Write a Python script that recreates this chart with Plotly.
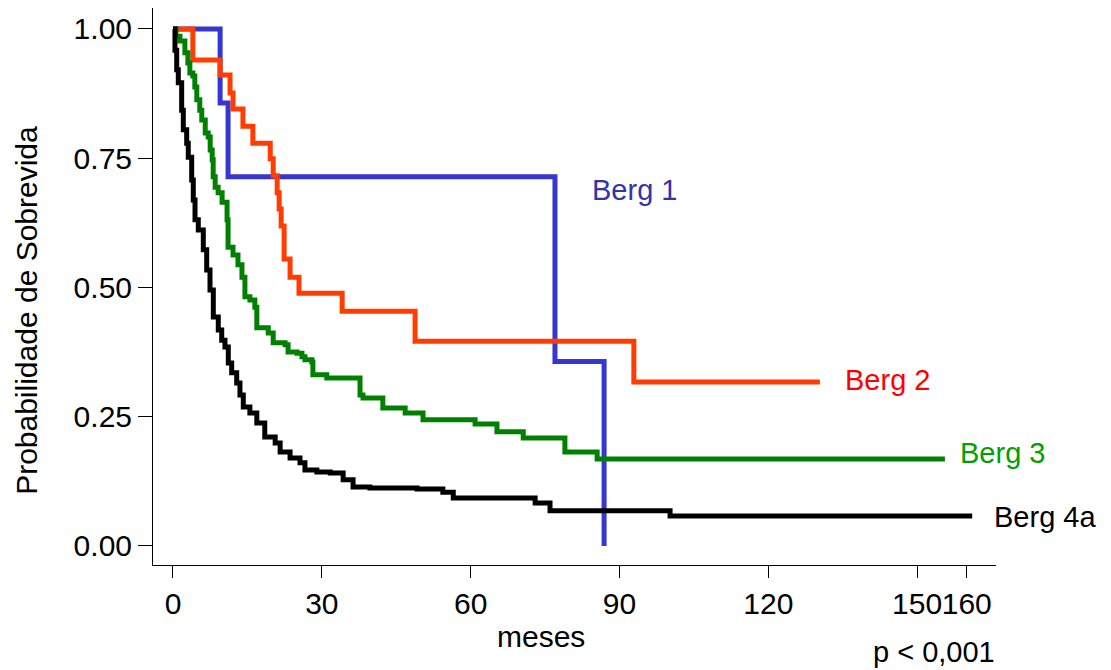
import plotly.graph_objects as go

# ---- data (months, survival probability) ----
berg1_t = [0, 9.5, 11.1, 77.0, 86.9]
berg1_s = [1.0, 0.857, 0.714, 0.357, 0.0]

berg2_t = [0, 4.0, 9.5, 11.5, 12.1, 14.1, 16.1, 19.6, 20.2, 21.0, 21.4, 21.8,
           22.4, 23.6, 25.4, 34.1, 48.8, 92.9, 130.4]
berg2_s = [1.0, 0.940, 0.911, 0.876, 0.845, 0.812, 0.779, 0.749, 0.716, 0.683,
           0.652, 0.619, 0.555, 0.520, 0.489, 0.454, 0.396, 0.317, 0.317]

berg3_t = [0, 0.6, 1.4, 2.4, 3.0, 3.4, 4.0, 4.4, 4.8, 5.4, 5.8, 6.5, 7.1, 7.5,
           7.9, 8.1, 8.5, 9.1, 9.9, 10.9, 11.1, 12.1, 13.1, 13.9, 14.5, 15.5,
           16.5, 16.9, 19.2, 20.2, 22.6, 23.2, 25.0, 26.0, 26.6, 28.0, 28.2,
           31.0, 37.7, 38.3, 42.3, 46.8, 50.4, 60.9, 65.3, 70.6, 79.0, 85.5,
           155.6]
berg3_s = [1.0, 0.986, 0.977, 0.954, 0.934, 0.915, 0.909, 0.888, 0.863, 0.843,
           0.824, 0.799, 0.791, 0.766, 0.747, 0.714, 0.694, 0.683, 0.665, 0.631,
           0.578, 0.563, 0.544, 0.520, 0.482, 0.476, 0.462, 0.422, 0.412, 0.393,
           0.389, 0.375, 0.373, 0.366, 0.360, 0.356, 0.331, 0.325, 0.292, 0.286,
           0.267, 0.257, 0.244, 0.236, 0.221, 0.209, 0.182, 0.168, 0.168]

berg4a_t = [0, 0.4, 0.75, 1.07, 1.75, 2.08, 2.76, 3.08, 3.77, 4.09, 4.44, 5.10,
            6.11, 6.79, 7.46, 8.13, 9.13, 9.82, 10.48, 11.15, 11.83, 12.84,
            13.5, 14.17, 15.5, 16.9, 18.5, 20.6, 21.6, 23.6, 25.6, 26.6, 29.0,
            31.7, 34.3, 36.3, 39.7, 49.2, 54.4, 56.5, 73.0, 76.0, 100.2, 161.1]
berg4a_s = [1.0, 0.959, 0.921, 0.896, 0.843, 0.805, 0.779, 0.752, 0.708, 0.669,
            0.631, 0.611, 0.573, 0.534, 0.495, 0.443, 0.418, 0.398, 0.385, 0.354,
            0.335, 0.315, 0.292, 0.269, 0.257, 0.238, 0.211, 0.199, 0.182, 0.170,
            0.161, 0.147, 0.143, 0.141, 0.128, 0.114, 0.112, 0.110, 0.104, 0.093,
            0.083, 0.068, 0.058, 0.058]

x_ticks = [0, 30, 60, 90, 120, 150, 160]
x_ticktext = ["0", "30", "60", "90", "120", "150", "160"]
y_ticks = [0, 0.25, 0.5, 0.75, 1.0]
y_ticktext = ["0.00", "0.25", "0.50", "0.75", "1.00"]

FONT = "Liberation Sans, Arial, Helvetica, sans-serif"

series = [
    ("Berg 1", berg1_t, berg1_s, "#3636d0"),
    ("Berg 2", berg2_t, berg2_s, "#ff3d00"),
    ("Berg 3", berg3_t, berg3_s, "#008000"),
    ("Berg 4a", berg4a_t, berg4a_s, "#000000"),
]

fig = go.Figure()
for name, t, s, c in series:
    fig.add_trace(go.Scatter(x=t, y=s, mode="lines", name=name,
                             line=dict(color=c, width=5, shape="hv"),
                             showlegend=False, hoverinfo="skip"))

labels = [
    ("Berg 1", 84.0, 0.689, "#3333aa"),
    ("Berg 2", 135.0, 0.321, "#ff0000"),
    ("Berg 3", 158.3, 0.180, "#00a000"),
    ("Berg 4a", 165.0, 0.056, "#000000"),
]
for txt, x, y, c in labels:
    fig.add_annotation(x=x, y=y, xref="x", yref="y", text=txt, showarrow=False,
                       xanchor="left", yanchor="middle",
                       font=dict(family=FONT, size=29, color=c))

fig.add_annotation(x=0.4603, y=-0.1275, xref="paper", yref="paper", text="meses",
                   showarrow=False, xanchor="center", yanchor="middle",
                   font=dict(family=FONT, size=30, color="black"))
fig.add_annotation(x=1.0, y=-0.1867, xref="paper", yref="paper", text="p < 0,001",
                   showarrow=False, xanchor="right", yanchor="bottom",
                   borderpad=0,
                   font=dict(family=FONT, size=29, color="black"))
fig.add_annotation(x=-0.1495, y=0.458, xref="paper", yref="paper",
                   text="Probabilidade de Sobrevida", textangle=-90,
                   showarrow=False, xanchor="center", yanchor="middle",
                   font=dict(family=FONT, size=30, color="black"))

fig.update_layout(
    width=1111, height=670,
    margin=dict(l=153, r=115, t=8, b=105),
    paper_bgcolor="white", plot_bgcolor="white",
    font=dict(family=FONT, size=30, color="black"),
)
fig.update_xaxes(range=[-4.03, 165.9], tickmode="array", tickvals=x_ticks,
                 ticktext=x_ticktext, tickangle=0, showline=True,
                 linecolor="black", linewidth=1, ticks="outside", ticklen=12,
                 tickcolor="black", tickwidth=1, showgrid=False, zeroline=False,
                 tickfont=dict(family=FONT, size=30, color="black"))
fig.update_yaxes(range=[-0.0368, 1.0406], tickmode="array", tickvals=y_ticks,
                 ticktext=y_ticktext, showline=True, linecolor="black",
                 linewidth=1, ticks="outside", ticklen=14, tickcolor="black",
                 tickwidth=1, showgrid=False, zeroline=False,
                 tickfont=dict(family=FONT, size=30, color="black"))

fig.write_html("out.html")
